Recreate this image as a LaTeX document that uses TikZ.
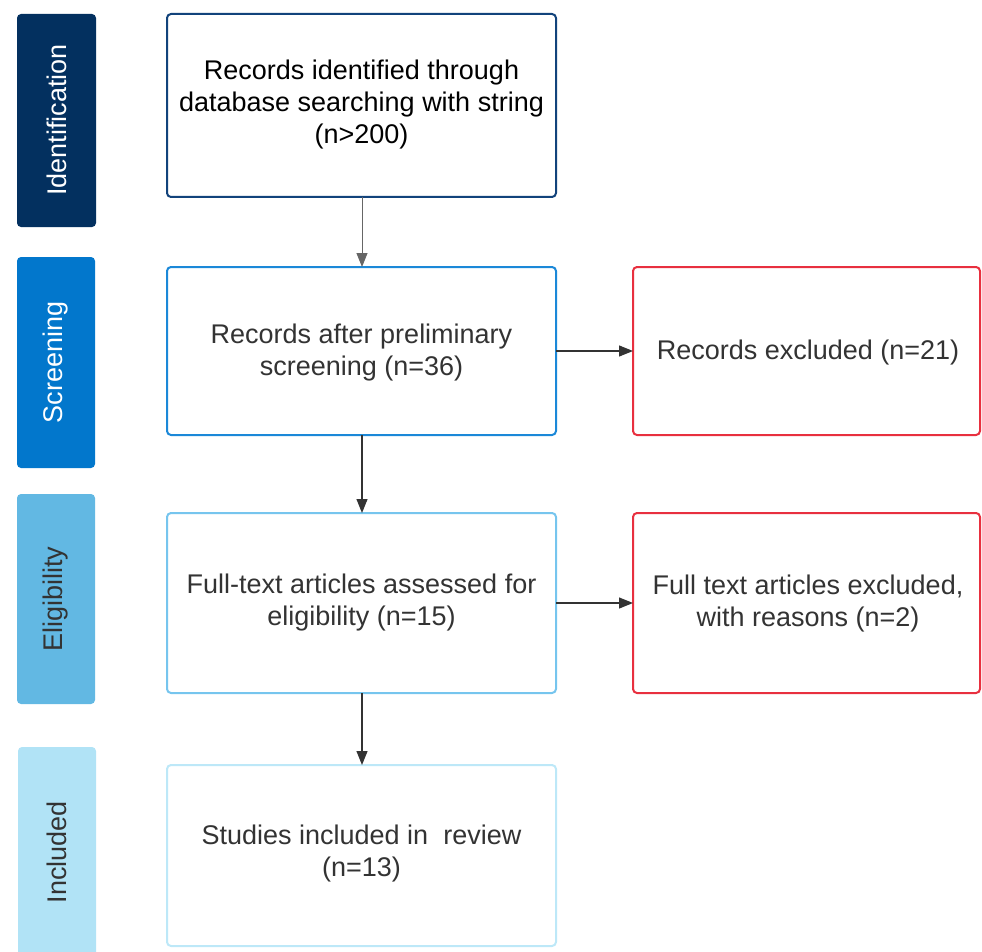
\documentclass[tikz,border=0pt]{standalone}
\usepackage{fontspec}
\setmainfont{Liberation Sans}
\usetikzlibrary{arrows.meta}
\definecolor{cIdent}{HTML}{03305F}
\definecolor{cScreen}{HTML}{0277CC}
\definecolor{cElig}{HTML}{62B8E3}
\definecolor{cIncl}{HTML}{B1E3F6}
\definecolor{bIdent}{HTML}{12437B}
\definecolor{bScreen}{HTML}{1B88D8}
\definecolor{bElig}{HTML}{76C5EE}
\definecolor{bIncl}{HTML}{BDE8F8}
\definecolor{cRed}{HTML}{E8303F}
\definecolor{cText}{HTML}{333333}
\begin{document}
\begin{tikzpicture}[x=1pt,y=-1pt,
  phase/.style={rounded corners=4pt,draw=none},
  flowbox/.style={rounded corners=4pt,line width=2pt,fill=white},
  boxtext/.style={align=center,font=\fontsize{27}{32}\selectfont,text=cText},
  sidetext/.style={rotate=90,font=\fontsize{27}{32}\selectfont},
  conn/.style={line width=1.2pt,draw=cText,-{Triangle[length=14pt,width=11pt]}}]
\useasboundingbox (0,0) rectangle (982,952);
% phase bars
\fill[phase,cIdent] (17,14) rectangle (96,227);
\node[sidetext,text=white] (lIdent) at (56.5,120) {Identification};
\fill[phase,cScreen] (17,257) rectangle (95,468);
\node[sidetext,text=white] (lScreen) at (56,362.5) {Screening};
\fill[phase,cElig] (17,494) rectangle (95,704);
\node[sidetext,text=cText] (lElig) at (56,599) {Eligibility};
\fill[phase,cIncl] (18,747) rectangle (96,975);
\node[sidetext,text=cText] (lIncl) at (57,852) {Included};
% main boxes
\draw[flowbox,draw=bIdent] (167,14) rectangle (556,197);
\node[boxtext,text=black] (b1) at (361.5,105) {Records identified through\\database searching with string\\(n>200)};
\coordinate (b1s) at (362,197);
\draw[flowbox,draw=bScreen] (167,267) rectangle (556,435);
\node[boxtext] (b2) at (361.5,353) {Records after preliminary\\screening (n=36)};
\coordinate (b2n) at (362,267);
\coordinate (b2s) at (362,435);
\coordinate (b2e) at (556,351);
\draw[flowbox,draw=bElig] (167,513) rectangle (556,693);
\node[boxtext] (b3) at (361.5,603) {Full-text articles assessed for\\eligibility (n=15)};
\coordinate (b3n) at (362,513);
\coordinate (b3s) at (362,693);
\coordinate (b3e) at (556,603);
\draw[flowbox,draw=bIncl] (167,765) rectangle (556,946);
\node[boxtext] (b4) at (361.5,854) {Studies included in~ review\\(n=13)};
\coordinate (b4n) at (362,765);
% exclusion boxes
\draw[flowbox,draw=cRed] (633,267) rectangle (980,435);
\node[boxtext] (e1) at (808,353) {Records excluded (n=21)};
\coordinate (e1w) at (633,351);
\draw[flowbox,draw=cRed] (633,513) rectangle (980,693);
\node[boxtext] (e2) at (808,604) {Full text articles excluded,\\with reasons (n=2)};
\coordinate (e2w) at (633,603);
% connectors
\draw[conn,draw=gray!80!black,line width=1pt] (b1s) -- (b2n);
\draw[conn] (b2s) -- (b3n);
\draw[conn] (b3s) -- (b4n);
\draw[conn] (b2e) -- (e1w);
\draw[conn] (b3e) -- (e2w);
\end{tikzpicture}
\end{document}
